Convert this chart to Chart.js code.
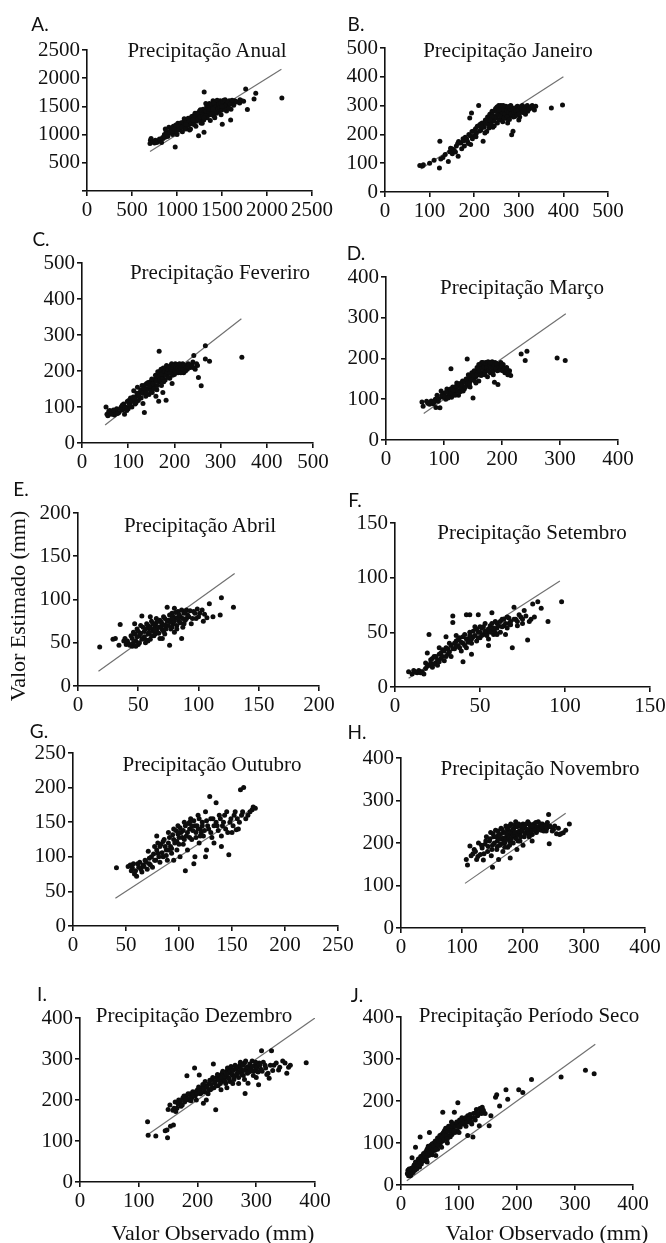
<!DOCTYPE html>
<html>
<head>
<meta charset="utf-8">
<script src="https://cdn.jsdelivr.net/npm/chart.js@4.4.1/dist/chart.umd.min.js"></script>
<style>
  body { margin: 0; background: #fff; width: 666px; height: 1243px; position: relative; overflow: hidden;
         font-family: "Liberation Serif", "Times New Roman", serif; color: #111; }
  canvas { position: absolute; }
  .lbl { position: absolute; transform: translate(-50%, -50%); white-space: nowrap; line-height: 1; }
  .letter { font-family: Lato, "Open Sans", sans-serif; font-size: 19px; }
  .title { font-size: 21px; }
  .axt { font-size: 22px; }
</style>
</head>
<body>
<script>
/* Observado x Estimado — painéis A..J */

var panelLetters = ["A.", "B.", "C.", "D.", "E.", "F.", "G.", "H.", "I.", "J."];
var panelTitles = [
  "Precipitação Anual", "Precipitação Janeiro", "Precipitação Feveriro", "Precipitação Março",
  "Precipitação Abril", "Precipitação Setembro", "Precipitação Outubro", "Precipitação Novembro",
  "Precipitação Dezembro", "Precipitação Período Seco"
];
var axisMax = [2500, 500, 500, 400, 200, 150, 250, 400, 400, 400];
var tickStep = [500, 100, 100, 100, 50, 50, 50, 100, 100, 100];
/* 1:1 reference line, start and end (mm) */
var lineEnds = [[700, 2160], [80, 400], [50, 345], [65, 310], [17, 130], [8, 97], [40, 170], [105, 270], [115, 400], [10, 335]];
var xAxisTitle = "Valor Observado (mm)";
var yAxisTitle = "Valor Estimado (mm)";

/* [observado, estimado] */
var anual = [[700,840],[705,900],[712,930],[720,870],[735,880],[750,850],[760,900],[775,860],[790,880],[805,920],[820,890],[840,950],[860,1000],[870,1100],[880,1060],[900,1020],[910,1130],[930,1080],[950,1000],[960,1150],[975,1050],[980,780],[990,1120],[1000,1000],[1010,1200],[1030,1100],[1040,1160],[1060,1050],[1070,1220],[1090,1150],[1100,1100],[1110,1250],[1130,1180],[1140,1080],[1150,1280],[1170,1200],[1180,1330],[1200,1250],[1210,1150],[1220,1380],[1230,1300],[1240,980],[1250,1420],[1260,1250],[1270,1350],[1280,1200],[1290,1450],[1300,1040],[1302,1755],[1310,1380],[1320,1300],[1330,1500],[1340,1420],[1350,1350],[1360,1550],[1370,1250],[1380,1480],[1390,1400],[1400,1600],[1410,1330],[1420,1520],[1430,1450],[1440,1380],[1450,1580],[1460,1500],[1470,1420],[1480,1600],[1490,1350],[1500,1530],[1503,1183],[1510,1470],[1520,1610],[1540,1560],[1550,1420],[1560,1500],[1580,1600],[1596,1259],[1600,1450],[1620,1550],[1640,1600],[1652,1592],[1696,1562],[1720,1600],[1763,1807],[1782,1446],[1856,1632],[1875,1732],[2165,1650],[1200,1380],[1150,1100],[1080,1280],[1350,1470],[1420,1300],[1250,1330],
  [815,905],[828,860],[845,930],[866,955],[884,1010],[897,965],[921,1045],[938,1115],[947,1060],[968,1095],[987,1170],[996,1065],[1017,1140],[1024,1085],[1046,1210],[1053,1135],[1077,1175],[1086,1105],[1103,1215],[1118,1160],[1124,1290],[1137,1235],[1158,1195],[1163,1320],[1176,1265],[1188,1180],[1194,1300],[1216,1235],[1228,1345],[1237,1275],[1246,1370],[1258,1310],[1266,1205],[1277,1395],[1286,1330],[1297,1260],[1306,1430],[1317,1345],[1326,1410],[1336,1300],[1347,1520],[1356,1395],[1367,1445],[1376,1350],[1384,1540],[1395,1465],[1404,1390],[1414,1560],[1425,1485],[1433,1420],[1446,1610],[1455,1455],[1464,1540],[1476,1480],[1486,1560],[1495,1430],[1507,1590],[1516,1500],[1528,1450],[1535,1620],[1547,1530],[1566,1580],[1575,1470],[1590,1540],[1612,1610],[1630,1520],[1660,1580],[1700,1620],[1740,1590],[1260,1440],[1320,1550],[1180,1260],[1100,1180],[1050,1130],[1300,1300],[1400,1450],[1500,1500]];
var janeiro = [[78,92],[84,90],[86,95],[100,100],[110,110],[122,83],[123,176],[125,115],[130,120],[135,130],[142,106],[145,140],[150,150],[151,133],[155,145],[160,160],[164,124],[165,175],[170,170],[175,185],[178,160],[180,190],[185,175],[188,200],[190,257],[192,165],[194,274],[195,210],[200,195],[203,220],[205,205],[210,300],[210,230],[215,215],[218,240],[220,176],[222,225],[225,250],[228,210],[230,260],[232,235],[235,270],[238,245],[240,280],[242,225],[245,255],[248,290],[250,265],[252,240],[255,300],[258,275],[260,250],[262,285],[265,265],[268,295],[270,280],[272,255],[275,270],[278,290],[280,265],[282,300],[284,199],[285,280],[287,211],[288,260],[290,285],[292,270],[295,295],[298,275],[300,290],[302,260],[305,280],[308,300],[310,285],[315,270],[318,295],[320,280],[325,290],[330,300],[335,285],[373,292],[398,302],[245,230],[260,300],[275,240],[300,250],
  [147,152],[158,139],[163,168],[172,150],[176,178],[183,183],[187,168],[191,195],[196,185],[199,212],[204,192],[207,228],[212,212],[214,236],[217,225],[224,205],[226,238],[229,248],[233,222],[236,258],[239,232],[241,268],[244,247],[246,282],[249,258],[251,295],[253,272],[256,252],[257,288],[259,264],[261,296],[263,276],[264,244],[266,288],[267,258],[269,272],[271,298],[273,283],[274,262],[276,295],[277,277],[279,252],[281,288],[283,271],[286,292],[289,278],[291,262],[293,290],[294,281],[296,268],[297,298],[299,285],[301,272],[303,295],[306,290],[309,276],[311,295],[313,288],[316,282],[319,300],[322,287],[327,295],[332,292],[338,298],[250,280],[265,300],[280,298],[240,260],[255,285],[235,250]];
var fevereiro = [[52,100],[54,80],[56,76],[60,90],[65,85],[70,78],[72,88],[75,95],[80,85],[85,100],[88,92],[90,108],[92,80],[95,100],[98,115],[100,95],[102,110],[105,125],[108,100],[110,120],[112,145],[115,108],[118,130],[120,155],[122,118],[125,140],[128,125],[130,160],[132,110],[135,85],[135,145],[138,130],[140,165],[142,150],[145,135],[148,170],[150,155],[152,140],[155,175],[158,160],[160,180],[162,148],[165,190],[166,116],[167,255],[168,170],[170,200],[172,160],[175,185],[178,195],[180,175],[182,119],[182,210],[185,190],[188,200],[190,180],[192,215],[195,195],[198,205],[200,190],[202,220],[205,205],[208,195],[210,215],[212,200],[215,210],[218,220],[220,195],[222,210],[225,215],[228,205],[230,220],[235,210],[240,225],[242,243],[245,205],[250,215],[252,182],[258,159],[267,270],[267,233],[276,227],[346,238],[160,130],[175,140],[195,165],
  [58,88],[63,80],[68,92],[77,82],[83,96],[87,105],[93,98],[97,90],[101,118],[104,105],[107,115],[111,128],[114,122],[117,112],[119,138],[123,130],[127,148],[131,138],[134,152],[137,162],[139,140],[143,168],[146,158],[149,145],[151,178],[154,165],[156,150],[159,188],[161,172],[163,160],[164,198],[167,185],[169,175],[171,205],[173,190],[174,178],[176,208],[177,170],[179,200],[181,188],[183,215],[184,198],[186,205],[187,182],[189,212],[191,195],[193,205],[194,220],[196,188],[197,210],[199,215],[201,200],[203,212],[204,195],[206,218],[207,208],[209,200],[211,220],[213,208],[214,195],[216,215],[219,205],[221,215],[224,200],[226,210],[229,212],[232,218],[238,215],[243,208],[248,220]];
var marco = [[62,93],[64,83],[70,95],[75,88],[81,89],[85,100],[86,80],[88,110],[90,95],[93,79],[95,120],[98,105],[100,115],[103,100],[105,125],[108,110],[110,120],[112,175],[113,105],[115,130],[118,115],[120,125],[122,140],[125,110],[128,130],[130,120],[132,145],[135,125],[138,150],[140,199],[140,135],[142,160],[145,145],[148,165],[150,103],[150,150],[152,170],[155,155],[158,175],[160,160],[162,180],[165,165],[168,185],[170,170],[172,190],[175,175],[178,180],[180,165],[182,188],[185,175],[187,142],[188,190],[190,180],[192,170],[193,136],[195,185],[198,190],[200,175],[202,185],[205,165],[208,178],[210,160],[213,170],[215,158],[233,211],[240,195],[243,218],[295,201],[309,195],[160,145],[175,155],[130,140],[145,130],[165,190],
  [72,90],[78,96],[83,92],[91,102],[96,110],[101,108],[104,118],[107,103],[111,125],[114,115],[116,122],[119,110],[121,132],[124,120],[126,138],[127,118],[129,128],[131,135],[133,120],[136,142],[137,130],[139,148],[141,140],[143,155],[144,138],[146,158],[147,148],[149,162],[151,158],[153,145],[154,168],[156,160],[157,178],[159,168],[161,172],[163,185],[164,158],[166,176],[167,190],[169,180],[171,165],[173,185],[174,178],[176,192],[177,170],[179,185],[181,178],[183,192],[184,168],[186,185],[189,175],[191,188],[194,178],[196,172],[199,182],[201,170],[204,176],[207,168],[209,172],[212,165],[180,190],[170,160],[155,140],[160,185],[185,160]];
var abril = [[18,45],[29,54],[31,55],[34,47],[35,71],[38,52],[40,48],[42,49],[44,58],[45,46],[46,62],[48,52],[49,66],[50,48],[51,58],[52,70],[53,81],[54,55],[55,63],[56,50],[57,72],[58,60],[59,67],[60,54],[61,75],[62,64],[63,58],[64,70],[65,78],[66,62],[67,68],[68,55],[69,74],[70,65],[71,80],[72,60],[73,70],[74,91],[75,76],[76,47],[77,66],[78,84],[79,72],[80,62],[81,78],[82,70],[83,86],[84,75],[85,80],[86,55],[87,68],[88,84],[89,76],[90,88],[92,80],[94,72],[96,86],[98,78],[99,89],[101,84],[104,75],[107,79],[109,95],[112,80],[118,82],[119,102],[129,91],[60,80],[70,55],[80,90],[47,72],
  [39,55],[41,52],[43,47],[45,55],[46,50],[47,60],[48,46],[49,57],[50,63],[51,50],[52,61],[53,54],[54,68],[55,57],[56,66],[57,53],[58,70],[59,62],[60,68],[61,58],[62,72],[63,66],[64,60],[65,73],[66,67],[67,61],[68,76],[69,69],[70,72],[71,63],[72,78],[73,66],[74,75],[75,70],[76,82],[77,74],[78,68],[79,80],[80,75],[81,85],[82,66],[83,79],[84,82],[85,73],[86,88],[87,78],[88,72],[89,85],[90,78],[91,82],[93,87],[95,78],[97,84],[100,80],[103,88],[105,83],[58,52],[66,75],[72,70],[78,78],[64,65]];
var setembro = [[8,14],[10,12],[11,15],[13,13],[14,15],[16,14],[17,12],[18,22],[19,31],[20,48],[20,20],[21,25],[22,18],[23,28],[24,22],[25,20],[26,30],[27,26],[28,34],[29,24],[30,36],[31,30],[32,40],[33,28],[34,65],[34,59],[35,35],[36,42],[37,38],[38,45],[39,33],[40,23],[40,40],[41,48],[42,66],[42,36],[43,44],[44,66],[44,50],[45,40],[46,46],[47,55],[48,42],[49,66],[49,50],[50,45],[51,54],[52,48],[53,58],[54,50],[55,44],[56,56],[57,68],[57,52],[58,48],[59,60],[60,54],[62,50],[63,62],[64,56],[65,48],[66,64],[67,58],[68,60],[69,36],[70,73],[71,62],[72,56],[74,64],[75,58],[76,70],[78,43],[80,62],[81,76],[82,64],[84,78],[86,72],[90,60],[98,78],[30,46],[45,30],[55,38],
  [12,14],[15,13],[18,17],[19,19],[21,22],[22,26],[23,21],[24,28],[25,25],[26,23],[27,31],[28,28],[29,33],[30,28],[31,35],[32,32],[33,38],[34,35],[35,40],[36,37],[37,43],[38,36],[39,41],[40,46],[41,38],[42,44],[43,41],[44,47],[45,44],[46,51],[47,47],[48,53],[49,45],[50,50],[51,47],[52,55],[53,51],[54,47],[55,53],[56,50],[57,58],[58,54],[59,50],[60,58],[61,56],[62,60],[63,55],[64,62],[65,58],[66,54],[67,63],[68,57],[70,62],[72,60],[73,66],[75,62],[77,65],[79,60],[36,47],[26,36],[50,55],[60,48]];
var outubro = [[41,84],[52,86],[55,80],[57,90],[58,75],[60,72],[62,85],[63,92],[65,78],[66,88],[68,95],[70,82],[71,108],[72,90],[74,100],[75,85],[77,115],[78,95],[79,130],[80,105],[82,92],[83,118],[85,100],[86,125],[88,110],[89,95],[90,135],[92,115],[93,105],[95,140],[96,120],[98,110],[99,145],[100,128],[101,100],[102,135],[104,118],[105,150],[106,80],[107,130],[108,110],[110,140],[111,155],[112,125],[114,90],[115,145],[116,135],[118,160],[119,120],[120,140],[122,150],[123,130],[125,165],[126,110],[127,145],[129,187],[130,135],[132,155],[133,120],[135,178],[136,145],[138,160],[140,130],[142,150],[144,140],[145,165],[147,103],[148,150],[150,135],[152,160],[154,139],[155,155],[157,150],[158,197],[160,165],[161,200],[165,160],[169,168],[172,170],[80,120],[95,95],[115,100],[125,100],[140,115],
  [54,88],[56,84],[59,80],[61,90],[64,82],[67,86],[69,92],[72,98],[73,88],[76,104],[77,95],[79,110],[81,100],[82,115],[84,106],[85,122],[87,115],[88,102],[90,120],[91,128],[93,112],[94,132],[95,125],[97,138],[98,122],[99,133],[100,118],[101,142],[103,128],[104,138],[105,125],[106,145],[108,135],[109,148],[110,128],[112,145],[113,138],[114,152],[116,128],[117,145],[118,140],[119,155],[121,135],[122,145],[124,138],[126,152],[128,140],[130,155],[131,128],[133,145],[135,150],[137,138],[139,155],[141,145],[143,160],[146,135],[149,155],[151,145],[153,165],[156,140],[159,160],[163,155],[167,165],[170,172],[100,135],[110,150],[120,130],[90,110]];
var novembro = [[107,161],[109,148],[113,193],[118,175],[120,185],[124,161],[127,200],[130,173],[133,188],[135,160],[138,197],[140,215],[142,180],[145,205],[147,225],[148,170],[150,143],[150,195],[152,215],[155,230],[157,185],[158,205],[160,161],[160,220],[162,195],[164,235],[165,210],[167,180],[168,225],[170,200],[172,240],[173,215],[175,190],[176,230],[178,205],[179,165],[180,245],[182,220],[184,200],[185,235],[187,215],[188,250],[190,225],[192,205],[194,240],[195,220],[197,230],[200,245],[202,215],[204,235],[206,225],[208,250],[210,230],[212,240],[215,220],[218,245],[220,235],[222,225],[225,250],[228,240],[230,230],[232,245],[235,235],[238,228],[240,248],[242,267],[243,198],[245,238],[250,232],[255,222],[260,220],[266,224],[270,230],[276,245],[190,185],[200,195],[215,205],
  [115,170],[122,180],[126,168],[132,195],[136,175],[139,205],[143,192],[146,210],[149,185],[151,222],[153,200],[156,215],[158,192],[159,228],[161,210],[163,220],[164,198],[166,232],[168,212],[169,203],[171,225],[172,208],[174,235],[175,220],[177,212],[178,240],[180,225],[181,210],[183,232],[184,218],[186,242],[187,225],[189,210],[190,238],[191,220],[193,245],[194,228],[196,215],[197,240],[199,228],[201,238],[203,222],[205,245],[207,232],[209,222],[211,245],[213,235],[214,228],[216,240],[219,230],[221,248],[223,238],[226,232],[229,245],[231,238],[234,228],[237,242],[239,235],[244,240],[248,228],[252,240],[258,235],[262,222],[178,195],[195,205],[210,215],[170,190]];
var dezembro = [[115,147],[116,114],[129,112],[145,125],[148,127],[149,108],[154,136],[159,139],[150,177],[153,188],[158,175],[162,195],[165,180],[168,200],[170,190],[172,185],[175,205],[178,195],[180,210],[182,259],[185,200],[188,215],[190,205],[192,220],[195,278],[196,210],[198,200],[200,225],[203,261],[205,215],[208,230],[210,192],[212,220],[215,235],[218,215],[220,240],[222,225],[225,250],[227,288],[228,230],[230,245],[231,176],[233,255],[235,235],[238,260],[240,245],[242,265],[245,250],[248,240],[250,270],[252,255],[255,245],[258,275],[260,260],[262,250],[265,280],[268,265],[270,255],[272,285],[275,270],[278,260],[280,290],[281,216],[283,275],[285,265],[286,241],[288,280],[290,270],[293,295],[295,260],[298,285],[300,275],[304,237],[305,290],[309,320],[310,270],[315,285],[320,265],[322,253],[326,320],[330,285],[338,273],[345,295],[349,290],[352,265],[358,285],[385,291],[215,200],[250,230],[270,240],
  [160,180],[163,172],[167,190],[171,198],[174,188],[177,210],[181,202],[184,215],[187,205],[189,198],[193,212],[197,220],[199,215],[202,232],[204,222],[207,218],[209,238],[211,228],[213,245],[216,232],[219,225],[221,248],[223,238],[224,228],[226,255],[229,242],[232,235],[234,262],[236,248],[239,240],[241,255],[243,270],[246,258],[247,245],[249,262],[251,278],[253,265],[254,252],[256,270],[257,282],[259,262],[261,272],[263,258],[264,285],[266,275],[267,262],[269,280],[271,268],[273,292],[274,275],[276,262],[277,285],[279,272],[282,295],[284,280],[287,268],[289,288],[291,275],[294,282],[296,270],[299,292],[301,280],[303,268],[306,285],[308,275],[312,292],[316,278],[318,262],[324,285],[328,272],[334,290],[340,280],[355,280],[260,240],[240,225],[280,250],[300,255]];
var periodoSeco = [[11,27],[12,35],[13,22],[15,30],[17,24],[18,40],[19,65],[20,32],[22,45],[24,38],[25,90],[26,50],[28,42],[30,55],[32,43],[33,114],[34,60],[35,50],[37,70],[38,58],[40,65],[42,75],[44,60],[45,85],[46,86],[48,70],[49,125],[50,80],[52,95],[54,72],[55,88],[57,100],[58,82],[60,92],[62,105],[63,85],[65,110],[66,95],[68,100],[70,120],[72,173],[72,105],[74,115],[75,130],[77,110],[78,125],[80,132],[80,100],[82,140],[84,118],[85,128],[87,150],[88,120],[90,135],[92,173],[93,125],[95,145],[97,130],[98,196],[100,150],[102,138],[105,160],[107,145],[110,155],[112,140],[115,118],[115,165],[118,150],[120,160],[122,145],[124,114],[125,170],[128,155],[130,180],[132,165],[135,141],[137,175],[140,185],[145,170],[152,141],[155,165],[163,209],[165,215],[170,188],[181,227],[184,204],[203,227],[210,220],[225,251],[276,257],[318,273],[333,265],
  [12,30],[14,26],[14,38],[16,33],[16,22],[18,28],[19,36],[21,40],[21,30],[23,48],[24,35],[25,55],[27,45],[27,38],[29,50],[30,62],[31,47],[33,55],[34,68],[36,56],[37,62],[39,75],[40,58],[41,70],[43,80],[44,68],[46,75],[47,92],[49,80],[51,88],[53,78],[54,98],[56,85],[57,92],[59,105],[60,85],[61,98],[63,112],[64,95],[66,105],[67,118],[69,108],[71,115],[73,125],[74,108],[76,120],[77,135],[79,118],[81,128],[83,135],[85,115],[86,140],[88,130],[90,145],[91,128],[94,140],[96,150],[99,140],[101,155],[104,145],[106,150],[109,148],[111,160],[114,150],[117,158],[119,168],[121,150],[126,160],[129,172],[133,168],[136,182],[139,170],[142,178],[60,70],[80,110],[100,125],[45,55],[70,90]];

var panelPoints = [anual, janeiro, fevereiro, marco, abril, setembro, outubro, novembro, dezembro, periodoSeco];

/* ------------------------------------------------------------------ */
/* Layout (page pixels): plot box left, top(max), right, bottom(zero)  */
/* ------------------------------------------------------------------ */
var BOX = [
  [87, 50, 312, 190.5], [385, 48.3, 608, 192.3],
  [82, 263.3, 313, 443.3], [386, 276.7, 618, 439.3],
  [78, 513.3, 319, 686], [395, 522.7, 650, 686.5],
  [73, 753.3, 338, 926.3], [401, 758.3, 645, 928.6],
  [80, 1018.3, 315, 1182], [401, 1016.7, 633, 1185]
];
var LETTER_POS = [[40, 23], [356, 23], [41, 238], [356, 252], [21, 488], [355, 499], [39, 730], [357, 731], [42, 993], [357, 994]];
var TITLE_POS = [[207, 50], [508, 50], [220, 272], [522, 287], [200, 525], [532, 532], [212, 764], [540, 768], [194, 1015], [529, 1015]];
var M = { l: 70, t: 16, r: 34, b: 40 };
var INK = "#111";
var SERIF = "\"Liberation Serif\", \"Times New Roman\", Times, serif";

Chart.defaults.font.family = SERIF;
Chart.defaults.font.size = 21;
Chart.defaults.color = INK;

function addText(cls, text, x, y, rotate) {
  var d = document.createElement("div");
  d.className = "lbl " + cls;
  d.textContent = text;
  d.style.left = x + "px";
  d.style.top = y + "px";
  if (rotate) d.style.transform = "translate(-50%, -50%) rotate(-90deg)";
  document.body.appendChild(d);
}

function axis(i, dir) {
  return {
    type: "linear",
    min: 0,
    max: axisMax[i],
    border: { display: true, color: INK, width: 1.6 },
    grid: { display: true, drawOnChartArea: false, drawTicks: true, tickLength: 5, color: INK, lineWidth: 1.6 },
    ticks: {
      stepSize: tickStep[i], padding: 2, color: INK,
      font: { family: SERIF, size: 21 },
      maxRotation: 0, autoSkip: false,
      callback: function (v) { return (i === 0 && dir === "y" && v === 0) ? "" : String(v); }
    },
    afterFit: function (s) {
      if (dir === "x") s.height = M.b; else s.width = M.l;
      s.paddingLeft = 0; s.paddingRight = 0; s.paddingTop = 0; s.paddingBottom = 0;
    }
  };
}

panelPoints.forEach(function (pts, i) {
  var b = BOX[i];
  var cv = document.createElement("canvas");
  cv.width = Math.round(b[2] - b[0] + M.l + M.r);
  cv.height = Math.round(b[3] - b[1] + M.t + M.b);
  cv.style.left = (b[0] - M.l) + "px";
  cv.style.top = (b[1] - M.t) + "px";
  document.body.appendChild(cv);

  new Chart(cv, {
    type: "scatter",
    data: {
      datasets: [
        {
          data: pts.map(function (p) { return { x: p[0], y: p[1] }; }),
          pointRadius: 2.5, pointBackgroundColor: "#0d0d0d", pointBorderWidth: 0, showLine: false
        },
        {
          data: lineEnds[i].map(function (v) { return { x: v, y: v }; }),
          showLine: true, borderColor: "#707070", borderWidth: 1.2, pointRadius: 0
        }
      ]
    },
    options: {
      responsive: false,
      animation: false,
      events: [],
      layout: { padding: { top: M.t, right: M.r, left: 0, bottom: 0 } },
      plugins: { legend: { display: false }, tooltip: { enabled: false } },
      scales: { x: axis(i, "x"), y: axis(i, "y") }
    }
  });

  addText("letter", panelLetters[i], LETTER_POS[i][0], LETTER_POS[i][1]);
  addText("title", panelTitles[i], TITLE_POS[i][0], TITLE_POS[i][1]);
});

addText("axt", yAxisTitle, 18, 606, true);
addText("axt", xAxisTitle, 213, 1233);
addText("axt", xAxisTitle, 547, 1233);
</script>
</body>
</html>
